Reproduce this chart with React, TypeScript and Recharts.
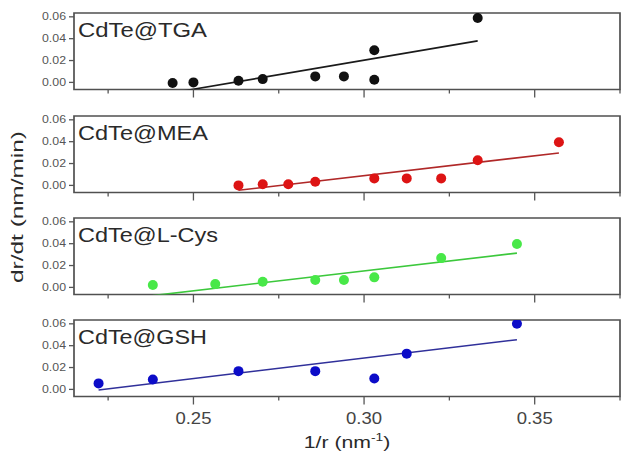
import React from "react"
import { ComposedChart, Scatter, XAxis, YAxis, ReferenceArea } from "recharts"

// 1/r values (nm^-1) and growth rates dr/dt (nm/min)
const tgaX = [0.2439, 0.25, 0.2632, 0.2703, 0.2857, 0.2941, 0.303, 0.303, 0.3333]
const tgaY = [-0.0005, 0.0, 0.0015, 0.003, 0.0055, 0.0055, 0.0294, 0.0024, 0.059]
const tgaFitX = [0.2439, 0.3333]
const tgaFitY = [-0.0095, 0.038]

const meaX = [0.2632, 0.2703, 0.2778, 0.2857, 0.303, 0.3125, 0.3226, 0.3333, 0.3571]
const meaY = [0.0, 0.001, 0.001, 0.0033, 0.0064, 0.0064, 0.0064, 0.023, 0.0394]
const meaFitX = [0.2632, 0.3571]
const meaFitY = [-0.0045, 0.0297]

const cysX = [0.2381, 0.2564, 0.2703, 0.2857, 0.2941, 0.303, 0.3226, 0.3448]
const cysY = [0.0022, 0.003, 0.0052, 0.0068, 0.0068, 0.0092, 0.0268, 0.0397]
const cysFitX = [0.2381, 0.3448]
const cysFitY = [-0.0075, 0.0314]

const gshX = [0.2222, 0.2381, 0.2632, 0.2857, 0.303, 0.3125, 0.3448]
const gshY = [0.0055, 0.0091, 0.0167, 0.0167, 0.01, 0.0327, 0.06]
const gshFitX = [0.2222, 0.3448]
const gshFitY = [-0.0005, 0.0455]

const xTicks = [0.225, 0.25, 0.275, 0.3, 0.325, 0.35, 0.375]
const majorXTicks = [0.25, 0.3, 0.35]
const yTicks = [0, 0.02, 0.04, 0.06]

const X_DOMAIN: [number, number] = [0.215, 0.375]
const Y_DOMAIN: [number, number] = [-0.0065, 0.0635]

const FONT = "'Liberation Sans', Arial, sans-serif"

const zip = (xs: number[], ys: number[]) => xs.map((x, i) => ({ x, y: ys[i] }))

const panels = [
  { name: "CdTe@TGA", nameLen: 129, top: 13, dot: "#111111", line: "#1a1a1a", pts: zip(tgaX, tgaY), fit: zip(tgaFitX, tgaFitY) },
  { name: "CdTe@MEA", nameLen: 130, top: 115.5, dot: "#dd1414", line: "#b02828", pts: zip(meaX, meaY), fit: zip(meaFitX, meaFitY) },
  { name: "CdTe@L-Cys", nameLen: 140, top: 218, dot: "#48e848", line: "#3cc83c", pts: zip(cysX, cysY), fit: zip(cysFitX, cysFitY) },
  { name: "CdTe@GSH", nameLen: 129, top: 320, dot: "#0c0cc8", line: "#30309a", pts: zip(gshX, gshY), fit: zip(gshFitX, gshFitY) },
]

const PLOT_H = 76.5
const TOP_PAD = 5

function Panel({ p, last }: { p: (typeof panels)[number]; last: boolean }) {
  const xh = last ? 458 - (p.top + PLOT_H) : 20.5
  const h = TOP_PAD + PLOT_H + xh

  const xTick = (props: any) => {
    const { x, y, payload } = props
    const major = majorXTicks.some((v) => Math.abs(v - payload.value) < 1e-6)
    return (
      <g>
        <line x1={x} x2={x} y1={y} y2={y + (major ? 8 : 4)} stroke="#555" strokeWidth={1.3} />
        {last && major && (
          <text x={x} y={y + 27} textAnchor="middle" fontSize={17} fill="#444" fontFamily={FONT}
            textLength={36} lengthAdjust="spacingAndGlyphs">
            {payload.value.toFixed(2)}
          </text>
        )}
      </g>
    )
  }

  const yTick = (props: any) => {
    const { x, y, payload } = props
    return (
      <g>
        <line x1={x - 5} x2={x} y1={y} y2={y} stroke="#555" strokeWidth={1.3} />
        <text x={x - 8} y={y} dy="0.35em" textAnchor="end" fontSize={10} fill="#555" fontFamily={FONT}
          textLength={24} lengthAdjust="spacingAndGlyphs">
          {payload.value.toFixed(2)}
        </text>
      </g>
    )
  }

  return (
    <div style={{ position: "absolute", left: 0, top: p.top - TOP_PAD }}>
      <ComposedChart width={622} height={h} margin={{ top: TOP_PAD, right: 2, bottom: 0, left: 0 }}>
        <XAxis type="number" dataKey="x" domain={X_DOMAIN} ticks={xTicks} interval={0} allowDataOverflow
          height={xh} tick={xTick} tickLine={false} axisLine={false} tickSize={0} tickMargin={0} />
        <YAxis type="number" dataKey="y" domain={Y_DOMAIN} ticks={yTicks} interval={0} allowDataOverflow
          width={74} tick={yTick} tickLine={false} axisLine={false} tickSize={0} tickMargin={0} />
        <ReferenceArea x1={X_DOMAIN[0]} x2={X_DOMAIN[1]} y1={Y_DOMAIN[0]} y2={Y_DOMAIN[1]}
          fill="none" fillOpacity={0} stroke="#505050" strokeWidth={1.7} />
        <Scatter data={p.fit} line={{ stroke: p.line, strokeWidth: 1.6 }} shape={() => <g />}
          isAnimationActive={false} />
        <Scatter data={p.pts} isAnimationActive={false}
          shape={(s: any) => <circle cx={s.cx} cy={s.cy} r={5} fill={p.dot} />} />
      </ComposedChart>
    </div>
  )
}

export default function App() {
  return (
    <div style={{ position: "absolute", left: 0, top: 0, width: 622, height: 458, background: "#fff" }}>
      {panels.map((p, i) => (
        <Panel key={p.name} p={p} last={i === panels.length - 1} />
      ))}
      <svg width={622} height={458} style={{ position: "absolute", left: 0, top: 0, pointerEvents: "none" }}>
        {panels.map((p) => (
          <text key={p.name} x={78} y={p.top + 24} fontSize={20} fill="#2a2a2a" fontFamily={FONT}
            textLength={p.nameLen} lengthAdjust="spacingAndGlyphs">
            {p.name}
          </text>
        ))}
        <text transform="translate(23,207) rotate(-90)" textAnchor="middle" fontSize={17} fill="#2a2a2a"
          fontFamily={FONT} textLength={152} lengthAdjust="spacingAndGlyphs">
          dr/dt (nm/min)
        </text>
        <g transform="translate(347,448) scale(1.25,1)">
          <text textAnchor="middle" fontSize={17} fill="#2a2a2a" fontFamily={FONT}>
            1/r (nm<tspan fontSize={11} dy={-7}>-1</tspan><tspan dy={7}>)</tspan>
          </text>
        </g>
      </svg>
    </div>
  )
}
